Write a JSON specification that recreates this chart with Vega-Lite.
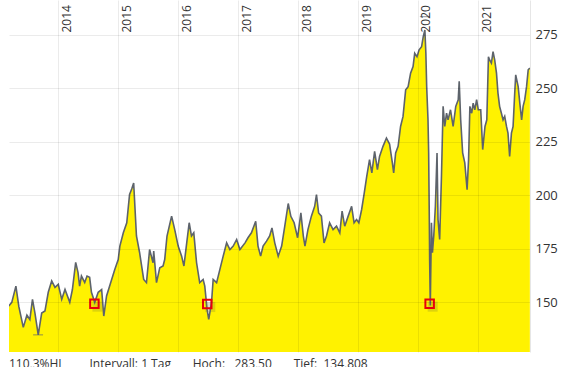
{
  "$schema": "https://vega.github.io/schema/vega-lite/v6.json",
  "width": 521,
  "height": 352,
  "autosize": {"type": "none"},
  "padding": {"left": 9, "top": 0, "right": 31, "bottom": 15},
  "config": {"view": {"stroke": null}, "font": "Open Sans"},
  "title": {
    "text": "110,3%HL\u00a0\u00a0\u00a0\u00a0\u00a0\u00a0\u00a0\u00a0Intervall: 1 Tag\u00a0\u00a0\u00a0\u00a0\u00a0\u00a0\u00a0Hoch:\u00a0\u00a0\u00a0283,50\u00a0\u00a0\u00a0\u00a0\u00a0\u00a0\u00a0Tief:\u00a0\u00a0134,808",
    "orient": "bottom",
    "anchor": "start",
    "font": "Open Sans",
    "fontSize": 12,
    "fontWeight": "normal",
    "color": "#333333",
    "baseline": "alphabetic",
    "offset": 16
  },
  "datasets": {
    "prices": [
      {"date": "2013-03-07", "value": 148.3},
      {"date": "2013-03-25", "value": 150.0},
      {"date": "2013-04-19", "value": 157.6},
      {"date": "2013-05-07", "value": 148.0},
      {"date": "2013-06-03", "value": 138.3},
      {"date": "2013-06-25", "value": 144.0},
      {"date": "2013-07-13", "value": 142.0},
      {"date": "2013-07-29", "value": 151.4},
      {"date": "2013-08-13", "value": 145.0},
      {"date": "2013-09-02", "value": 134.8},
      {"date": "2013-09-23", "value": 145.0},
      {"date": "2013-10-13", "value": 146.0},
      {"date": "2013-11-02", "value": 154.7},
      {"date": "2013-11-23", "value": 160.0},
      {"date": "2013-12-13", "value": 157.0},
      {"date": "2014-01-02", "value": 158.4},
      {"date": "2014-01-23", "value": 151.4},
      {"date": "2014-02-12", "value": 156.0},
      {"date": "2014-03-13", "value": 150.0},
      {"date": "2014-03-29", "value": 156.0},
      {"date": "2014-04-18", "value": 168.7},
      {"date": "2014-05-02", "value": 164.0},
      {"date": "2014-05-12", "value": 157.6},
      {"date": "2014-05-23", "value": 162.3},
      {"date": "2014-06-12", "value": 159.3},
      {"date": "2014-06-26", "value": 162.3},
      {"date": "2014-07-12", "value": 161.7},
      {"date": "2014-07-23", "value": 154.7},
      {"date": "2014-08-12", "value": 150.0},
      {"date": "2014-09-02", "value": 154.7},
      {"date": "2014-09-23", "value": 156.0},
      {"date": "2014-10-06", "value": 143.6},
      {"date": "2014-10-23", "value": 153.0},
      {"date": "2014-11-23", "value": 160.7},
      {"date": "2014-12-12", "value": 165.4},
      {"date": "2015-01-02", "value": 170.0},
      {"date": "2015-01-12", "value": 176.3},
      {"date": "2015-02-02", "value": 182.5},
      {"date": "2015-02-23", "value": 187.2},
      {"date": "2015-03-12", "value": 200.4},
      {"date": "2015-03-25", "value": 203.0},
      {"date": "2015-04-06", "value": 205.8},
      {"date": "2015-04-23", "value": 181.0},
      {"date": "2015-05-12", "value": 173.3},
      {"date": "2015-06-06", "value": 160.7},
      {"date": "2015-06-23", "value": 159.2},
      {"date": "2015-07-12", "value": 174.7},
      {"date": "2015-08-02", "value": 168.5},
      {"date": "2015-08-06", "value": 174.0},
      {"date": "2015-08-23", "value": 159.2},
      {"date": "2015-09-12", "value": 166.2},
      {"date": "2015-10-02", "value": 167.0},
      {"date": "2015-10-12", "value": 170.0},
      {"date": "2015-10-26", "value": 181.0},
      {"date": "2015-11-23", "value": 190.3},
      {"date": "2015-12-12", "value": 184.0},
      {"date": "2016-01-02", "value": 176.3},
      {"date": "2016-01-23", "value": 171.6},
      {"date": "2016-02-06", "value": 167.0},
      {"date": "2016-02-23", "value": 177.8},
      {"date": "2016-03-09", "value": 187.2},
      {"date": "2016-03-23", "value": 181.0},
      {"date": "2016-04-06", "value": 182.5},
      {"date": "2016-04-23", "value": 168.5},
      {"date": "2016-05-12", "value": 159.2},
      {"date": "2016-06-02", "value": 160.7},
      {"date": "2016-06-12", "value": 157.6},
      {"date": "2016-06-26", "value": 146.7},
      {"date": "2016-07-06", "value": 142.0},
      {"date": "2016-07-23", "value": 149.9},
      {"date": "2016-08-02", "value": 160.7},
      {"date": "2016-08-23", "value": 159.2},
      {"date": "2016-09-12", "value": 165.4},
      {"date": "2016-10-02", "value": 171.6},
      {"date": "2016-10-23", "value": 177.8},
      {"date": "2016-11-12", "value": 174.7},
      {"date": "2016-12-02", "value": 176.3},
      {"date": "2016-12-23", "value": 179.4},
      {"date": "2017-01-12", "value": 174.7},
      {"date": "2017-02-12", "value": 177.8},
      {"date": "2017-03-02", "value": 180.2},
      {"date": "2017-03-23", "value": 182.5},
      {"date": "2017-04-18", "value": 187.9},
      {"date": "2017-05-02", "value": 176.3},
      {"date": "2017-05-18", "value": 171.6},
      {"date": "2017-06-02", "value": 176.3},
      {"date": "2017-06-23", "value": 178.6},
      {"date": "2017-07-12", "value": 181.0},
      {"date": "2017-07-26", "value": 184.8},
      {"date": "2017-08-12", "value": 177.8},
      {"date": "2017-09-02", "value": 171.6},
      {"date": "2017-09-23", "value": 176.3},
      {"date": "2017-10-12", "value": 185.6},
      {"date": "2017-11-02", "value": 196.2},
      {"date": "2017-11-18", "value": 190.2},
      {"date": "2017-12-08", "value": 187.2},
      {"date": "2017-12-29", "value": 180.2},
      {"date": "2018-01-18", "value": 191.8},
      {"date": "2018-02-02", "value": 181.0},
      {"date": "2018-02-12", "value": 176.3},
      {"date": "2018-03-02", "value": 184.0},
      {"date": "2018-03-23", "value": 190.3},
      {"date": "2018-04-12", "value": 194.9},
      {"date": "2018-04-23", "value": 200.4},
      {"date": "2018-05-06", "value": 191.8},
      {"date": "2018-05-23", "value": 190.3},
      {"date": "2018-06-08", "value": 177.8},
      {"date": "2018-06-23", "value": 181.0},
      {"date": "2018-07-12", "value": 187.2},
      {"date": "2018-08-02", "value": 184.0},
      {"date": "2018-08-23", "value": 185.6},
      {"date": "2018-09-12", "value": 182.5},
      {"date": "2018-09-26", "value": 192.6},
      {"date": "2018-10-12", "value": 185.6},
      {"date": "2018-11-02", "value": 190.3},
      {"date": "2018-11-23", "value": 194.9},
      {"date": "2018-12-08", "value": 187.2},
      {"date": "2018-12-23", "value": 188.7},
      {"date": "2019-01-06", "value": 187.2},
      {"date": "2019-01-23", "value": 193.4},
      {"date": "2019-02-08", "value": 201.2},
      {"date": "2019-02-23", "value": 208.9},
      {"date": "2019-03-12", "value": 216.7},
      {"date": "2019-03-26", "value": 210.5},
      {"date": "2019-04-12", "value": 220.6},
      {"date": "2019-04-29", "value": 212.0},
      {"date": "2019-05-12", "value": 218.2},
      {"date": "2019-06-02", "value": 222.9},
      {"date": "2019-06-23", "value": 226.8},
      {"date": "2019-07-12", "value": 224.0},
      {"date": "2019-07-29", "value": 215.2},
      {"date": "2019-08-06", "value": 210.5},
      {"date": "2019-08-18", "value": 219.8},
      {"date": "2019-09-02", "value": 222.9},
      {"date": "2019-09-17", "value": 232.2},
      {"date": "2019-10-02", "value": 236.9},
      {"date": "2019-10-18", "value": 249.3},
      {"date": "2019-11-02", "value": 250.8},
      {"date": "2019-11-17", "value": 257.1},
      {"date": "2019-12-02", "value": 260.2},
      {"date": "2019-12-12", "value": 266.4},
      {"date": "2019-12-26", "value": 264.8},
      {"date": "2020-01-08", "value": 268.0},
      {"date": "2020-01-23", "value": 269.5},
      {"date": "2020-02-02", "value": 274.2},
      {"date": "2020-02-12", "value": 277.3},
      {"date": "2020-02-18", "value": 266.4},
      {"date": "2020-02-23", "value": 250.8},
      {"date": "2020-03-02", "value": 235.3},
      {"date": "2020-03-06", "value": 219.8},
      {"date": "2020-03-10", "value": 188.7},
      {"date": "2020-03-12", "value": 170.0},
      {"date": "2020-03-16", "value": 148.5},
      {"date": "2020-03-18", "value": 160.0},
      {"date": "2020-03-23", "value": 187.2},
      {"date": "2020-03-29", "value": 173.2},
      {"date": "2020-04-06", "value": 181.0},
      {"date": "2020-04-16", "value": 195.0},
      {"date": "2020-04-26", "value": 219.8},
      {"date": "2020-05-02", "value": 188.7},
      {"date": "2020-05-12", "value": 179.4},
      {"date": "2020-05-23", "value": 208.9},
      {"date": "2020-06-02", "value": 241.6},
      {"date": "2020-06-12", "value": 232.2},
      {"date": "2020-06-23", "value": 238.4},
      {"date": "2020-07-02", "value": 235.3},
      {"date": "2020-07-17", "value": 240.0},
      {"date": "2020-08-02", "value": 232.2},
      {"date": "2020-08-18", "value": 241.6},
      {"date": "2020-09-02", "value": 244.7},
      {"date": "2020-09-08", "value": 253.3},
      {"date": "2020-09-17", "value": 235.3},
      {"date": "2020-09-29", "value": 219.8},
      {"date": "2020-10-12", "value": 215.2},
      {"date": "2020-10-26", "value": 202.7},
      {"date": "2020-11-04", "value": 216.7},
      {"date": "2020-11-12", "value": 241.6},
      {"date": "2020-11-23", "value": 238.4},
      {"date": "2020-12-02", "value": 243.1},
      {"date": "2020-12-12", "value": 240.0},
      {"date": "2020-12-23", "value": 244.7},
      {"date": "2021-01-02", "value": 240.0},
      {"date": "2021-01-17", "value": 240.0},
      {"date": "2021-01-29", "value": 221.4},
      {"date": "2021-02-12", "value": 232.2},
      {"date": "2021-02-23", "value": 235.3},
      {"date": "2021-03-05", "value": 264.8},
      {"date": "2021-03-12", "value": 263.3},
      {"date": "2021-03-23", "value": 261.8},
      {"date": "2021-04-02", "value": 267.2},
      {"date": "2021-04-12", "value": 263.3},
      {"date": "2021-04-23", "value": 257.1},
      {"date": "2021-05-02", "value": 247.8},
      {"date": "2021-05-12", "value": 241.6},
      {"date": "2021-05-23", "value": 238.4},
      {"date": "2021-06-02", "value": 235.3},
      {"date": "2021-06-12", "value": 236.9},
      {"date": "2021-06-23", "value": 232.2},
      {"date": "2021-07-02", "value": 229.1},
      {"date": "2021-07-12", "value": 218.2},
      {"date": "2021-07-23", "value": 229.1},
      {"date": "2021-08-02", "value": 232.2},
      {"date": "2021-08-12", "value": 247.8},
      {"date": "2021-08-18", "value": 256.3},
      {"date": "2021-09-02", "value": 250.8},
      {"date": "2021-09-12", "value": 243.1},
      {"date": "2021-09-23", "value": 235.3},
      {"date": "2021-10-02", "value": 241.6},
      {"date": "2021-10-12", "value": 244.7},
      {"date": "2021-10-23", "value": 250.8},
      {"date": "2021-11-02", "value": 258.7},
      {"date": "2021-11-12", "value": 259.5}
    ],
    "markers": [
      {"date": "2014-08-10", "value": 149.4},
      {"date": "2016-06-27", "value": 149.2},
      {"date": "2020-03-12", "value": 149.4}
    ],
    "extremes": [
      {"date": "2013-09-01", "value": 134.808},
      {"date": "2020-02-12", "value": 283.5}
    ]
  },
  "layer": [
    {
      "data": {"name": "prices"},
      "mark": {"type": "area", "color": "#fff200", "opacity": 1, "fillOpacity": 1, "clip": true, "line": {"color": "#5d636b", "strokeWidth": 1.6}},
      "encoding": {
        "x": {
          "field": "date",
          "type": "temporal",
          "scale": {"type": "utc", "domain": [{"year": 2013, "month": 3, "date": 8, "utc": true}, {"year": 2021, "month": 11, "date": 13, "utc": true}]},
          "axis": {
            "orient": "top",
            "offset": -33,
            "tickCount": {"interval": "year"},
            "format": "%Y",
            "labelAngle": -90,
            "labelAlign": "left",
            "labelBaseline": "top",
            "labelOffset": 3,
            "labelPadding": 1,
            "ticks": false,
            "tickSize": 0,
            "domain": false,
            "grid": true,
            "gridColor": "#000000",
            "gridOpacity": 0.08,
            "labelFont": "Open Sans",
            "labelFontSize": 12,
            "labelColor": "#333333",
            "labelOverlap": false,
            "labelFlush": false,
            "labelBound": false,
            "title": null,
            "zindex": 1
          }
        },
        "y": {
          "field": "value",
          "type": "quantitative",
          "scale": {"domain": [126.8, 291.3], "zero": false, "nice": false},
          "axis": {
            "orient": "right",
            "values": [150, 175, 200, 225, 250, 275],
            "grid": true,
            "gridColor": "#000000",
            "gridOpacity": 0.08,
            "domain": true,
            "domainColor": "#e6e6e6",
            "ticks": false,
            "tickSize": 0,
            "labelPadding": 5,
            "labelFont": "Open Sans",
            "labelFontSize": 13,
            "labelColor": "#333333",
            "title": null,
            "zindex": 1
          }
        }
      }
    },
    {
      "data": {"name": "extremes"},
      "mark": {"type": "tick", "orient": "horizontal", "color": "#5d636b", "size": 10, "thickness": 1},
      "encoding": {
        "x": {"field": "date", "type": "temporal"},
        "y": {"field": "value", "type": "quantitative"}
      }
    },
    {
      "data": {"name": "markers"},
      "mark": {"type": "point", "shape": "square", "filled": true, "color": "#7a7a30", "opacity": 0.25, "size": 100},
      "encoding": {
        "x": {"field": "date", "type": "temporal"},
        "y": {"field": "value", "type": "quantitative"},
        "xOffset": {"value": 3},
        "yOffset": {"value": 3}
      }
    },
    {
      "data": {"name": "markers"},
      "mark": {"type": "point", "shape": "square", "filled": false, "color": "#e8000b", "strokeWidth": 2, "size": 72, "opacity": 1},
      "encoding": {
        "x": {"field": "date", "type": "temporal"},
        "y": {"field": "value", "type": "quantitative"}
      }
    }
  ]
}
